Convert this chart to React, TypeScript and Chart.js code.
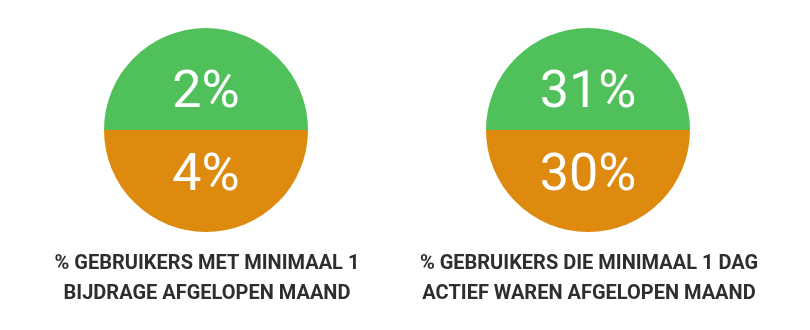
import React, { useEffect, useRef } from "react";
import { Chart, registerables } from "chart.js";

Chart.register(...registerables);

// Data
const topPercents = [2, 31];
const bottomPercents = [4, 30];
const captionLine1 = ["% GEBRUIKERS MET MINIMAAL 1", "% GEBRUIKERS DIE MINIMAAL 1 DAG"];
const captionLine2 = ["BIJDRAGE AFGELOPEN MAAND", "ACTIEF WAREN AFGELOPEN MAAND"];
const halfShares = [1, 1];

const GREEN = "#50c15a";
const ORANGE = "#dd8a0e";
const TEXT = "#2e2e2e";

function PieCard({ index, left, width }: { index: number; left: number; width: number }) {
  const ref = useRef<HTMLCanvasElement | null>(null);
  useEffect(() => {
    if (!ref.current) return;
    const values = [topPercents[index], bottomPercents[index]];
    const textPlugin = {
      id: "pieText",
      afterDraw(chart: any) {
        const ctx = chart.ctx;
        const meta = chart.getDatasetMeta(0);
        ctx.save();
        ctx.fillStyle = "#ffffff";
        ctx.textAlign = "center";
        ctx.textBaseline = "alphabetic";
        ctx.font = "400 52px Roboto";
        meta.data.forEach((arc: any, i: number) => {
          const p = arc.getProps(["x", "y", "startAngle", "endAngle", "outerRadius"], true);
          const mid = (p.startAngle + p.endAngle) / 2;
          const px = p.x + Math.cos(mid) * p.outerRadius * 0.41;
          const py = p.y + Math.sin(mid) * p.outerRadius * 0.41;
          ctx.fillText(values[i] + "%", px, py + 18.5);
        });
        const cx = (chart.chartArea.left + chart.chartArea.right) / 2;
        ctx.fillStyle = TEXT;
        ctx.font = "700 20px Roboto";
        ctx.fillText(captionLine1[index], cx + 1, 268.5);
        ctx.fillText(captionLine2[index], cx + 1, 298.5);
        ctx.restore();
      },
    };
    const chart = new Chart(ref.current, {
      type: "pie",
      data: {
        labels: ["top", "bottom"],
        datasets: [
          {
            data: halfShares,
            backgroundColor: [GREEN, ORANGE],
            borderWidth: 0,
            hoverOffset: 0,
            offset: 0,
          } as any,
        ],
      },
      options: {
        animation: false,
        responsive: false,
        maintainAspectRatio: false,
        events: [],
        rotation: -90,
        radius: 102,
        layout: { padding: { top: 0, bottom: 70, left: 0, right: 0 } },
        plugins: { legend: { display: false }, tooltip: { enabled: false } },
      } as any,
      plugins: [textPlugin],
    });
    return () => chart.destroy();
  }, [index]);
  return (
    <canvas
      ref={ref}
      width={width}
      height={330}
      style={{ position: "absolute", left, top: 0, width, height: 330 }}
    />
  );
}

export default function App() {
  return (
    <div
      style={{
        position: "fixed",
        left: 0,
        top: 0,
        width: 810,
        height: 330,
        background: "#ffffff",
        overflow: "hidden",
      }}
    >
      <PieCard index={0} left={0} width={412} />
      <PieCard index={1} left={412} width={352} />
    </div>
  );
}
